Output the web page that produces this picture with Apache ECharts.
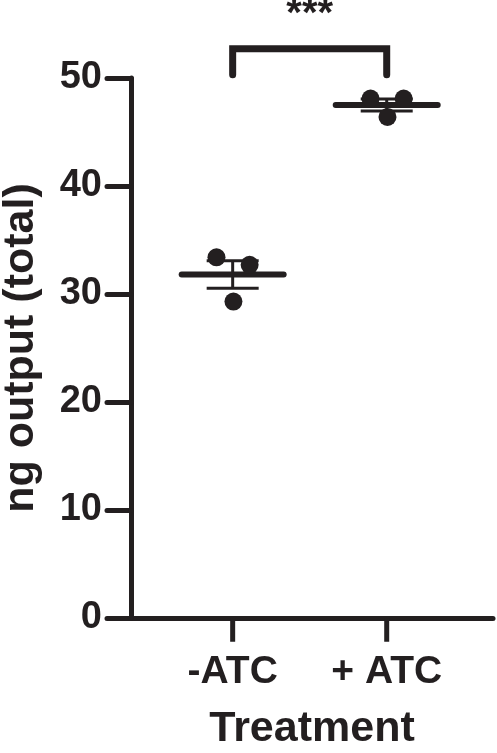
<!DOCTYPE html>
<html>
<head>
<meta charset="utf-8">
<style>
html, body { margin: 0; padding: 0; background: #fff; }
#chart { width: 497px; height: 753px; }
</style>
<script src="https://cdn.jsdelivr.net/npm/echarts@6/dist/echarts.min.js"></script>
</head>
<body>
<div id="chart"></div>
<script type="text/javascript">
	// 数据
	var groups = ['-ATC', '+ ATC'];
	var groupPos = [1, 2];
	var minusAtc = [33.4, 32.7, 29.3];
	var plusAtc = [48.1, 48.1, 46.4];
	var jitter = [-0.105, 0.11, 0.005];
	var means = [31.8, 47.5];
	var sems = [1.27, 0.55];
	var yTicks = [0, 10, 20, 30, 40, 50];
	var bracketLow = 50.3;
	var bracketHigh = 52.7;
	var stars = '***';

	var ink = '#231f20';
	var font = 'Liberation Sans, Arial, sans-serif';

	var points = [];
	[minusAtc, plusAtc].forEach(function (vals, g) {
		vals.forEach(function (v, i) {
			points.push([groupPos[g] + jitter[i], v]);
		});
	});

	var summary = groupPos.map(function (p, i) {
		return [p, means[i], sems[i]];
	});

	var bracket = [
		[groupPos[0], bracketLow], [groupPos[0], bracketHigh],
		[groupPos[1], bracketHigh], [groupPos[1], bracketLow]
	];

	// x 轴分组刻度（向下约 24px）
	var xTicks = [[1, 0], [1, -2.2], '-', [2, 0], [2, -2.2]];

	// 均值线 + SEM 误差线
	function renderSummary(params, api) {
		var x = api.value(0), m = api.value(1), s = api.value(2);
		var c = api.coord([x, m]);
		var hi = api.coord([x, m + s]);
		var lo = api.coord([x, m - s]);
		var lineStyle = { stroke: ink, lineWidth: 3 };
		return {
			type: 'group',
			children: [
				{ type: 'line', shape: { x1: c[0], y1: hi[1], x2: c[0], y2: lo[1] }, style: lineStyle },
				{ type: 'line', shape: { x1: c[0] - 26, y1: hi[1], x2: c[0] + 26, y2: hi[1] }, style: lineStyle },
				{ type: 'line', shape: { x1: c[0] - 26, y1: lo[1], x2: c[0] + 26, y2: lo[1] }, style: lineStyle },
				{ type: 'line', shape: { x1: c[0] - 51, y1: c[1], x2: c[0] + 51, y2: c[1] },
					style: { stroke: ink, lineWidth: 6, lineCap: 'round' } }
			]
		};
	}

	var option = {
		animation: false,
		grid: { left: 131, right: 4, top: 78, bottom: 135, outerBoundsMode: 'none' },
		xAxis: {
			type: 'value',
			min: 0.34,
			max: 2.69,
			name: 'Treatment',
			nameLocation: 'middle',
			nameGap: 90,
			nameTextStyle: { color: ink, fontSize: 43, fontWeight: 'bold', fontFamily: font },
			axisLine: { show: true, lineStyle: { color: ink, width: 5 } },
			axisTick: { show: false },
			axisLabel: {
				customValues: groupPos,
				margin: 35,
				color: ink, fontSize: 39, fontWeight: 'bold', fontFamily: font,
				formatter: function (v) { return groups[groupPos.indexOf(v)]; }
			},
			splitLine: { show: false }
		},
		yAxis: {
			type: 'value',
			min: yTicks[0],
			max: yTicks[yTicks.length - 1],
			interval: 10,
			name: 'ng output (total)',
			nameLocation: 'middle',
			nameGap: 88,
			nameTextStyle: { color: ink, fontSize: 43, fontWeight: 'bold', fontFamily: font },
			axisLine: { show: true, lineStyle: { color: ink, width: 5, cap: 'round' } },
			axisTick: { show: true, length: 24, lineStyle: { color: ink, width: 5, cap: 'round' } },
			axisLabel: { margin: 29, color: ink, fontSize: 38, fontWeight: 'bold', fontFamily: font },
			splitLine: { show: false }
		},
		series: [
			{
				type: 'line',
				data: xTicks,
				symbol: 'none',
				clip: false,
				lineStyle: { color: ink, width: 5 }
			},
			{
				type: 'custom',
				renderItem: renderSummary,
				data: summary,
				clip: false,
				z: 2
			},
			{
				type: 'scatter',
				data: points,
				symbolSize: 18,
				itemStyle: { color: ink, opacity: 1 },
				clip: false,
				z: 3
			},
			{
				type: 'line',
				data: bracket,
				symbol: 'none',
				clip: false,
				lineStyle: { color: ink, width: 7, cap: 'round', join: 'miter', opacity: 1 }
			},
			{
				type: 'scatter',
				data: [[(groupPos[0] + groupPos[1]) / 2, bracketHigh]],
				symbolSize: 0,
				clip: false,
				itemStyle: { opacity: 1 },
				label: {
					show: true,
					position: 'top',
					distance: 14,
					formatter: stars,
					color: ink, fontSize: 40, fontWeight: 'bold', fontFamily: font
				}
			}
		]
	};

	var chart = echarts.init(document.getElementById('chart'));
	chart.setOption(option);
	window.addEventListener('resize', function () {
		chart.resize();
	});
</script>
</body>
</html>
